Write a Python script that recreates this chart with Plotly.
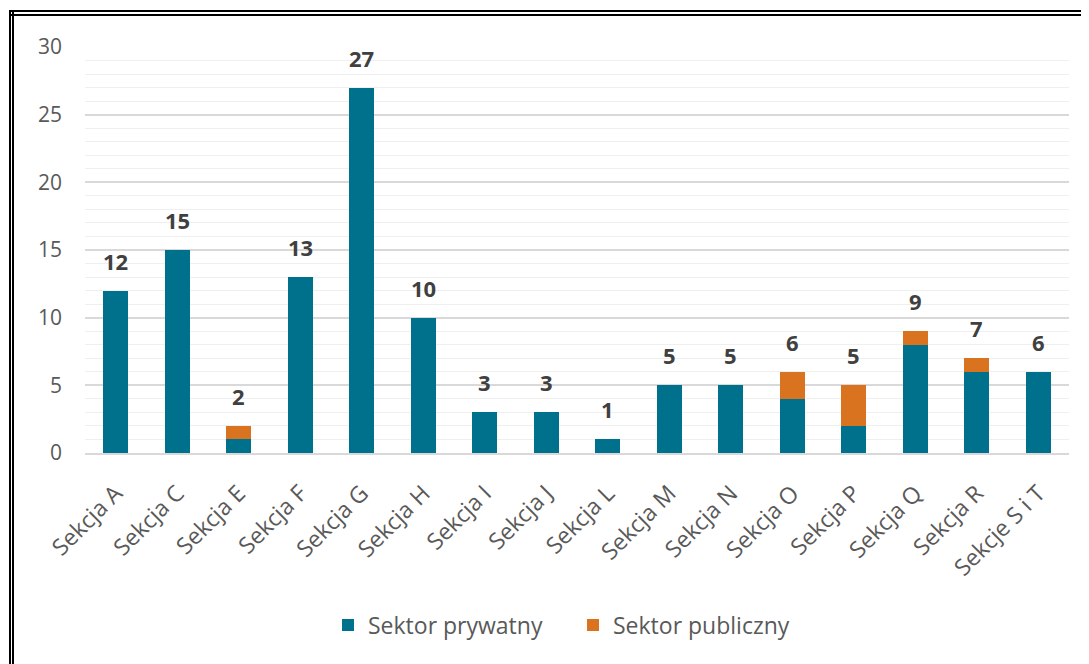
import plotly.graph_objects as go

categories = ["Sekcja A", "Sekcja C", "Sekcja E", "Sekcja F", "Sekcja G", "Sekcja H",
              "Sekcja I", "Sekcja J", "Sekcja L", "Sekcja M", "Sekcja N", "Sekcja O",
              "Sekcja P", "Sekcja Q", "Sekcja R", "Sekcje S i T"]
private = [12, 15, 1, 13, 27, 10, 3, 3, 1, 5, 5, 4, 2, 8, 6, 6]
public = [0, 0, 1, 0, 0, 0, 0, 0, 0, 0, 0, 2, 3, 1, 1, 0]
totals = [a + b for a, b in zip(private, public)]

TEAL = "#00718C"
ORANGE = "#D9731F"
FONT = "Open Sans"

fig = go.Figure()
fig.add_trace(go.Bar(x=categories, y=private, name="Sektor prywatny",
                     marker=dict(color=TEAL, line=dict(width=0))))
fig.add_trace(go.Bar(x=categories, y=public, name="Sektor publiczny",
                     marker=dict(color=ORANGE, line=dict(width=0))))

for c, t in zip(categories, totals):
    fig.add_annotation(x=c, y=t, text="<b>%d</b>" % t, showarrow=False,
                       yanchor="middle", yshift=30,
                       font=dict(family=FONT, size=22, color="#404040"))

# page has an 8px body margin; figure coords = page coords - 8
OFF = 8
W, H = 1089 - OFF, 664 - OFF
L, R = 85 - OFF, 20
T = 47 - OFF
B = H - (453 - OFF)
pw, ph = W - L - R, H - T - B

def px(x):  # page x -> paper
    return (x - OFF - L) / pw

def py(y):  # page y -> paper
    return (H - B - (y - OFF)) / ph

shapes = []
for yy in (11, 15):
    shapes.append(dict(type="line", xref="paper", yref="paper",
                       x0=px(9), x1=px(1100), y0=py(yy), y1=py(yy),
                       line=dict(color="black", width=2)))
for xx in (10, 13):
    shapes.append(dict(type="line", xref="paper", yref="paper",
                       x0=px(xx), x1=px(xx), y0=py(10), y1=py(680),
                       line=dict(color="black", width=2)))

fig.update_layout(
    barmode="stack",
    bargap=0.59,
    width=W, height=H,
    margin=dict(l=L, r=R, t=T, b=B, autoexpand=False),
    paper_bgcolor="white",
    plot_bgcolor="white",
    font=dict(family=FONT, color="#595959"),
    shapes=shapes,
    showlegend=True,
    legend=dict(orientation="h", x=px(328), xanchor="left", y=py(625), yanchor="middle",
                font=dict(family=FONT, size=23, color="#595959"),
                entrywidth=200, entrywidthmode="pixels",
                traceorder="normal", itemwidth=30, bgcolor="rgba(0,0,0,0)"),
    xaxis=dict(tickangle=-45, tickfont=dict(family=FONT, size=23, color="#595959"),
               showgrid=False, showline=True, linecolor="#D9D9D9", linewidth=1.5,
               ticks="", ticklabelstandoff=16),
    yaxis=dict(range=[0, 30], tickvals=[0, 5, 10, 15, 20, 25, 30],
               tickfont=dict(family=FONT, size=21, color="#595959"),
               showgrid=True, gridcolor="#D9D9D9", gridwidth=1.5,
               minor=dict(dtick=1, showgrid=True, gridcolor="#EFEFEF", gridwidth=1),
               zeroline=False, showline=False, ticks="", ticklabelstandoff=22),
)

fig.write_html("out.html")
